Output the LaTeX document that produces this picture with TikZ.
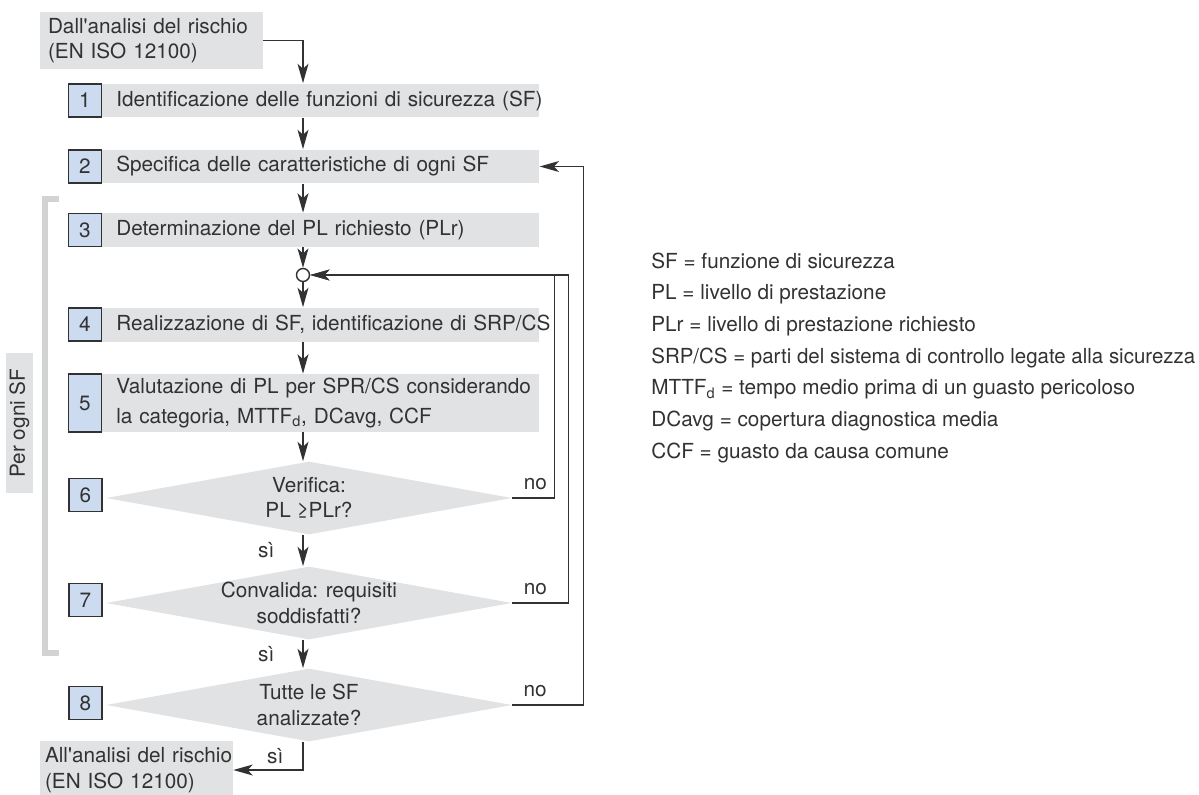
\documentclass[tikz,border=0pt]{standalone}
\usepackage{fontspec}
\setmainfont{TeX Gyre Heros}[Ligatures=TeXOff]
\usepackage{graphicx}
\usetikzlibrary{positioning,shapes.geometric,arrows.meta}
\definecolor{barg}{RGB}{225,226,228}
\definecolor{brag}{RGB}{210,211,213}
\definecolor{numb}{RGB}{204,219,240}
\definecolor{ink}{RGB}{50,50,50}

\begin{document}
\begin{tikzpicture}[x=0.02cm, y=-0.02cm, font=\fontsize{11.8}{14.5}\selectfont, text=ink,
    bar/.style={fill=barg, anchor=west, text width=8.18cm, inner xsep=0.28cm, inner ysep=0pt, minimum height=0.68cm, align=left},
    num/.style={fill=numb, draw=ink, line width=0.6pt, minimum width=0.66cm, minimum height=0.66cm, inner sep=0pt},
    dia/.style={diamond, fill=barg, minimum width=8.12cm, minimum height=1.46cm, inner sep=0pt},
    lbl/.style={inner sep=0pt},
    ln/.style={draw=ink, line width=0.8pt},
    arr/.style={ln, -{Stealth[length=11pt,width=6.2pt,inset=2.8pt]}}]
  \useasboundingbox (0,0) rectangle (1199,794);
  \coordinate (axis) at (303,0);

  \node[fill=barg, text width=4.14cm, inner xsep=0.16cm, minimum height=1.1cm, align=left] (src) at (151.5,40.5) {\mbox{Dall'analisi del rischio}\\(EN ISO 12100)};

  \node[bar] (b1) at (102,100.5) {\mbox{Identificazione delle funzioni di sicurezza (SF)}};
  \node[num, left=0pt of b1] (n1) {1};
  \node[bar] (b2) at (102,166.5) {\mbox{Specifica delle caratteristiche di ogni SF}};
  \node[num, left=0pt of b2] (n2) {2};
  \node[bar] (b3) at (102,230) {\mbox{Determinazione del PL richiesto (PLr)}};
  \node[num, left=0pt of b3] (n3) {3};
  \node[circle, draw=ink, fill=white, line width=0.8pt, minimum size=0.26cm, inner sep=0pt] (jn) at (303,275) {};
  \node[bar] (b4) at (102,324.5) {\mbox{Realizzazione di SF, identificazione di SRP/CS}};
  \node[num, left=0pt of b4] (n4) {4};
  \node[bar, minimum height=1.16cm, font=\fontsize{11.8}{17}\selectfont] (b5) at (102,403) {\mbox{Valutazione di PL per SPR/CS considerando}\\la categoria, MTTF\textsubscript{d}, DCavg, CCF};
  \node[num, minimum height=1.16cm, left=0pt of b5] (n5) {5};

  \node[dia] (d6) at (309,498) {};
  \node[lbl, align=center] (t6) at (d6) {Verifica:\\PL ≥PLr?};
  \node[num] (n6) at (85.5,495) {6};
  \node[dia] (d7) at (309,603) {};
  \node[lbl, align=center] (t7) at (d7) {Convalida: requisiti\\soddisfatti?};
  \node[num] (n7) at (85.5,600) {7};
  \node[dia] (d8) at (309,705) {};
  \node[lbl, align=center] (t8) at (d8) {Tutte le SF\\analizzate?};
  \node[num] (n8) at (85.5,703) {8};

  \node[fill=barg, text width=3.66cm, inner xsep=0.1cm, minimum height=1.16cm, align=left] (dst) at (136.5,770) {\mbox{All'analisi del rischio}\\(EN ISO 12100)};

  \draw[brag, line width=0.12cm] (59,199) -- (45,199) -- (45,653) -- (59,653);
  \node[fill=barg, rotate=90, minimum width=2.8cm, minimum height=0.54cm, inner sep=0pt] (pog) at (19.5,423) {Per ogni SF};

  \draw[arr] (src.east) -| (b1.north -| axis);
  \draw[arr] (b1.south -| axis) -- (b2.north -| axis);
  \draw[arr] (b2.south -| axis) -- (b3.north -| axis);
  \draw[arr] (b3.south -| axis) -- (jn.north);
  \draw[arr] (jn.south) -- (b4.north -| axis);
  \draw[arr] (b4.south -| axis) -- (b5.north -| axis);
  \draw[arr] (b5.south -| axis) -- (d6.north -| axis);
  \draw[arr] (d6.south -| axis) -- (d7.north -| axis) node[lbl, midway, left=0.56cm] (si6) {sì};
  \draw[arr] (d7.south -| axis) -- (d8.north -| axis) node[lbl, midway, left=0.56cm] (si7) {sì};
  \draw[arr] (d8.south -| axis) |- (dst.east) node[lbl, pos=0.25, left=0.38cm] (si8) {sì};

  \draw[arr] (d6.east) -- node[lbl, pos=0.55, above=4pt] (no6) {no} ++(42,0) |- (jn.east);
  \draw[arr] (d7.east) -- node[lbl, pos=0.41, above=4pt] (no7) {no} ++(56,0) |- (jn.east);
  \draw[arr] (d8.east) -- node[lbl, pos=0.32, above=4pt] (no8) {no} ++(71,0) |- (b2.east);

  \foreach \t [count=\i] in {{SF = funzione di sicurezza},
      {PL = livello di prestazione},
      {PLr = livello di prestazione richiesto},
      {\resizebox{10.88cm}{\height}{SRP/CS = parti del sistema di controllo legate alla sicurezza}},
      {MTTF\textsubscript{d} = tempo medio prima di un guasto pericoloso},
      {DCavg = copertura diagnostica media},
      {CCF = guasto da causa comune}}
    \node[lbl, anchor=base west] (leg\i) at (651,{268+31.67*(\i-1)}) {\t};
\end{tikzpicture}
\end{document}
